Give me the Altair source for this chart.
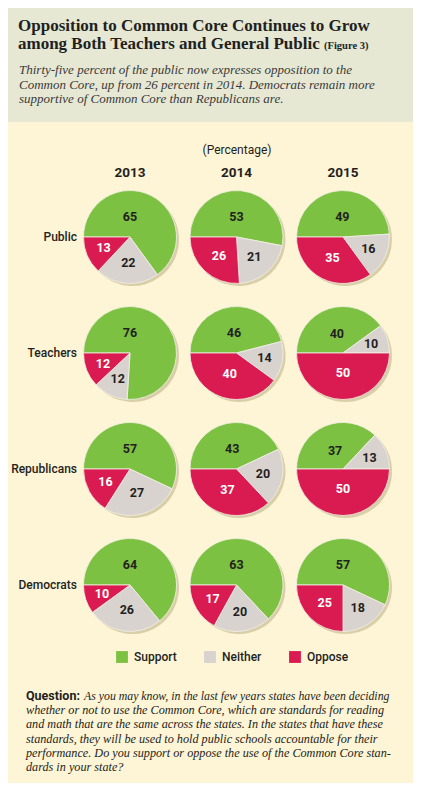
import math
import altair as alt
import pandas as pd

# ---------------- data ----------------
groups = ["Public", "Teachers", "Republicans", "Democrats"]
years = ["2013", "2014", "2015"]
categories = ["Support", "Neither", "Oppose"]
support = [[65, 53, 49], [76, 46, 40], [57, 43, 37], [64, 63, 57]]
neither = [[22, 21, 16], [12, 14, 10], [27, 20, 13], [26, 20, 18]]
oppose = [[13, 26, 35], [12, 40, 50], [16, 37, 50], [10, 17, 25]]

title_lines = ["Opposition to Common Core Continues to Grow",
               "among Both Teachers and General Public"]
figure_note = "(Figure 3)"
subtitle_lines = ["Thirty-five percent of the public now expresses opposition to the",
                  "Common Core, up from 26 percent in 2014. Democrats remain more",
                  "supportive of Common Core than Republicans are."]
unit_note = "(Percentage)"
question_head = "Question:"
question_first = "As you may know, in the last few years states have been deciding"
question_rest = ["whether or not to use the Common Core, which are standards for reading",
                 "and math that are the same across the states.  In the states that have these",
                 "standards, they will be used to hold public schools accountable for their",
                 "performance.  Do you support or oppose the use of the Common Core stan-",
                 "dards in your state?"]

colors = ["#7cc142", "#d8d3cf", "#d91b51"]

rows = []
for gi, g in enumerate(groups):
    for yi, yr in enumerate(years):
        for ci, (c, vals) in enumerate(zip(categories, [support, neither, oppose])):
            rows.append(dict(group=g, year=yr, category=c, order=ci, value=vals[gi][yi]))
df = pd.DataFrame(rows)

W, H = 405, 775
SANS = "Roboto"
SERIF = "Liberation Serif"
INK = "#231f20"

xs = alt.X("year:N", scale=alt.Scale(type="point", domain=years, range=[122, 335], padding=0), axis=None)
ys = alt.Y("group:N", scale=alt.Scale(type="point", domain=groups, range=[229, 577], padding=0), axis=None)
tsc = alt.Scale(domain=[0, 100], range=[-math.pi / 2, 3 * math.pi / 2])

base = alt.Chart(df).transform_window(
    cum="sum(value)", sort=[alt.SortField("order", order="ascending")],
    groupby=["group", "year"], frame=[None, 0]
).transform_calculate(
    start="datum.cum - datum.value",
    mid="datum.cum - datum.value / 2",
).transform_calculate(
    labpos="datum.category == 'Support' ? min(datum.mid, 25) : datum.mid",
    lr="datum.category == 'Support' ? 20 : 32 - 0.25 * datum.value",
)

shadow = base.mark_arc(radius=46.5, xOffset=2.5, yOffset=2.5, color="#d8cfa8").encode(
    x=xs, y=ys,
    theta=alt.Theta("start:Q", scale=tsc, stack=False), theta2="cum:Q",
)

slices = base.mark_arc(radius=46.5, stroke="#f4f0e6", strokeWidth=0.8).encode(
    x=xs, y=ys,
    theta=alt.Theta("start:Q", scale=tsc, stack=False), theta2="cum:Q",
    color=alt.Color("category:N", scale=alt.Scale(domain=categories, range=colors),
                    legend=alt.Legend(orient="none", legendX=108, legendY=643,
                                      direction="horizontal", title=None,
                                      symbolType="square", symbolSize=140,
                                      symbolStrokeWidth=0, symbolOpacity=1,
                                      labelFont=SANS, labelFontSize=12,
                                      labelFontWeight=500, labelColor=INK,
                                      labelOffset=6, columnPadding=27)),
)

labels = base.mark_text(font=SANS, fontSize=12.5, fontWeight="bold",
                        align="center", baseline="middle").encode(
    x=xs, y=ys,
    theta=alt.Theta("labpos:Q", scale=tsc, stack=False),
    radius=alt.Radius("lr:Q", scale=None),
    text="value:Q",
    color=alt.condition(alt.datum.category == "Oppose", alt.value("white"), alt.value(INK)),
)

year_df = pd.DataFrame({"year": years})
year_labels = alt.Chart(year_df).mark_text(font=SANS, fontSize=13.5, fontWeight="bold",
                                           color=INK, baseline="middle").encode(
    x=xs, y=alt.value(165), text="year:N")

group_df = pd.DataFrame({"group": groups})
group_labels = alt.Chart(group_df).mark_text(font=SANS, fontSize=12, fontWeight=500,
                                             color=INK, align="right", baseline="middle").encode(
    x=alt.value(69), y=ys, text="group:N")

one = pd.DataFrame({"k": [0]})


def txt(text, x, y, **kw):
    return alt.Chart(one).mark_text(text=text, **kw).encode(x=alt.value(x), y=alt.value(y))


header = alt.Chart(one).mark_rect(color="#e6e8d4").encode(
    x=alt.value(0), x2=alt.value(W), y=alt.value(0), y2=alt.value(114))

t1 = txt(title_lines[0], 10, 23, font=SERIF, fontSize=17, fontWeight="bold", color=INK,
         align="left", baseline="alphabetic")
t2 = txt(title_lines[1], 10, 41, font=SERIF, fontSize=17, fontWeight="bold", color=INK,
         align="left", baseline="alphabetic")
t3 = txt(figure_note, 316, 41, font=SERIF, fontSize=10.5, fontWeight="bold", color=INK,
         align="left", baseline="alphabetic")
sub = txt(subtitle_lines, 11, 66, font=SERIF, fontSize=13, fontStyle="italic", color="#3a3a3a",
          align="left", baseline="alphabetic", lineHeight=14.5)
unit = txt(unit_note, 229, 142, font=SANS, fontSize=12, color=INK, align="center", baseline="middle")
q1 = txt(question_head, 18, 692, font=SANS, fontSize=12.5, fontWeight="bold", color=INK,
         align="left", baseline="alphabetic")
q2 = txt(question_first, 76, 692, font=SERIF, fontSize=11.8, fontStyle="italic", color=INK,
         align="left", baseline="alphabetic")
q3 = txt(question_rest, 18, 706, font=SERIF, fontSize=12.2, fontStyle="italic", color=INK,
         align="left", baseline="alphabetic", lineHeight=14.3)

chart = alt.layer(
    header, t1, t2, t3, sub, unit, year_labels, group_labels,
    shadow, slices, labels, q1, q2, q3
).properties(
    width=W, height=H,
    autosize=alt.AutoSizeParams(type="fit", contains="padding"),
    padding=0,
    background="#fef4d6",
).configure_view(stroke=None)

chart.save("out.html", embed_options={"renderer": "svg", "actions": False})
